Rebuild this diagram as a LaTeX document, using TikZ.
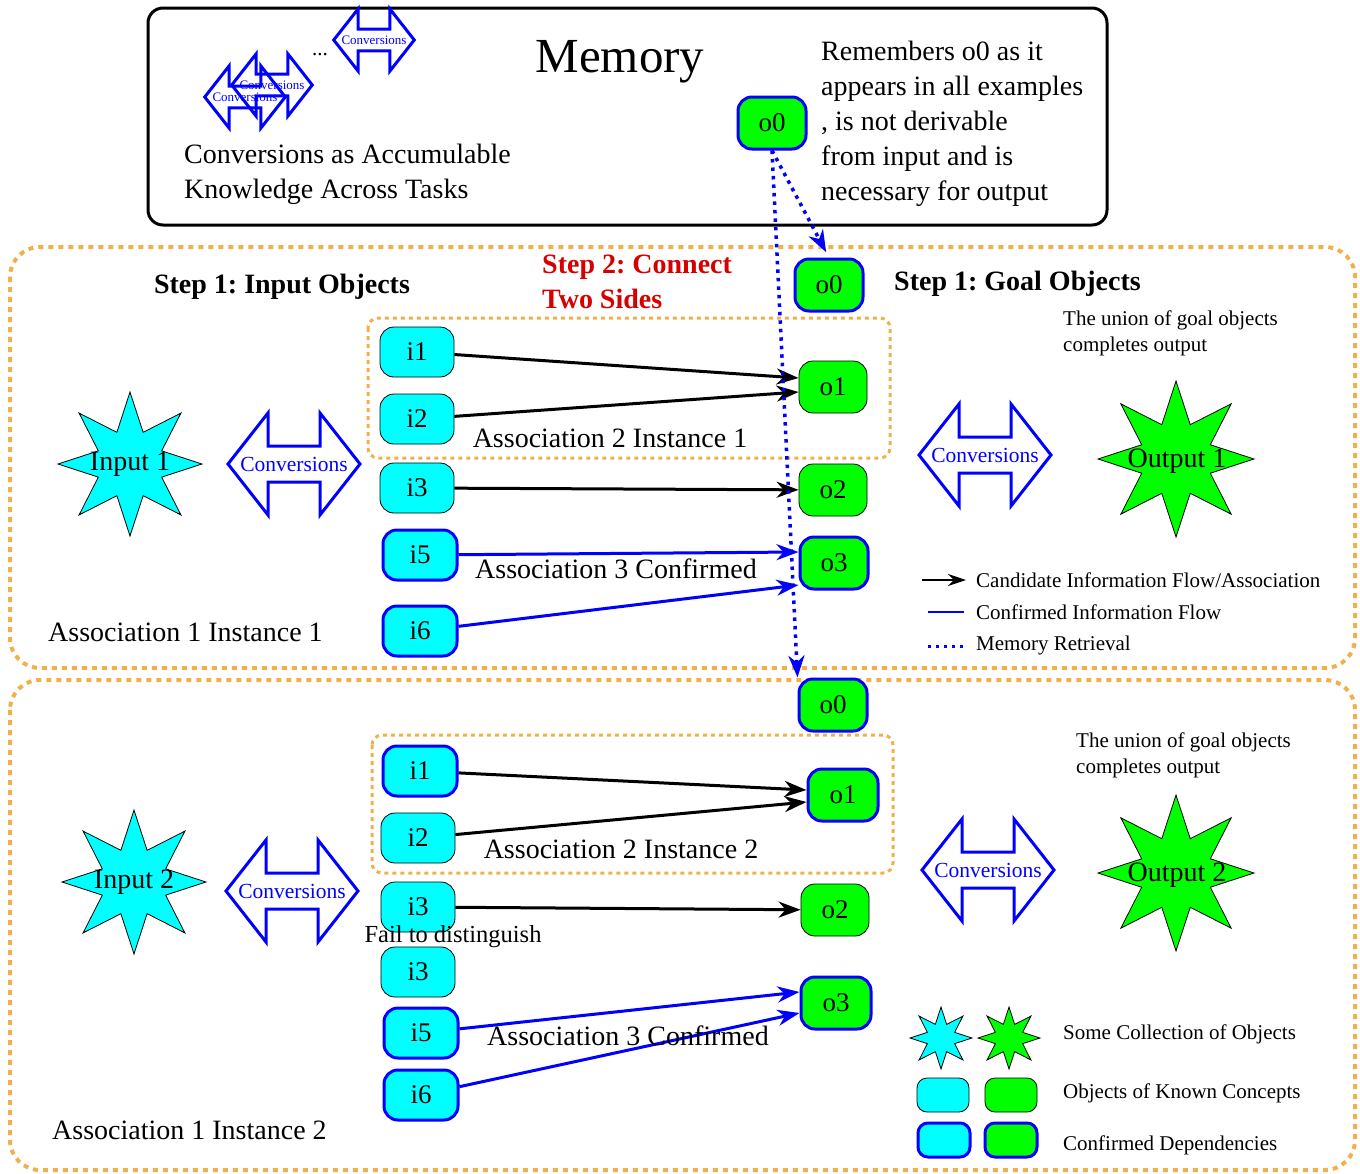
\documentclass[tikz,border=0pt]{standalone}
\usepackage{fontspec}
\setmainfont{Liberation Serif}
\usetikzlibrary{arrows.meta, shapes.geometric}

\definecolor{dotorange}{RGB}{242,176,76}
\definecolor{stepred}{RGB}{215,0,0}
\definecolor{incyan}{RGB}{0,255,255}
\definecolor{outgreen}{RGB}{0,255,0}
\definecolor{flowblue}{RGB}{0,0,255}
\frenchspacing

\begin{document}
\begin{tikzpicture}[
    x=1pt, y=-1pt,
    txt/.style={font=\fontsize{28}{35}\selectfont, inner sep=0pt},
    smalltxt/.style={font=\fontsize{21}{26}\selectfont, inner sep=0pt},
    headtxt/.style={font=\fontsize{28}{35}\selectfont\bfseries, inner sep=0pt},
    obj/.style={rectangle, rounded corners=14pt, draw=black, line width=0.8pt, minimum width=74pt, minimum height=50pt, font=\fontsize{27}{33}\selectfont, inner sep=0pt},
    inobj/.style={obj, fill=incyan},
    outobj/.style={obj, fill=outgreen, minimum width=68pt, minimum height=52pt},
    confirmed/.style={draw=flowblue, line width=3pt},
    keybox/.style={rectangle, rounded corners=10pt, draw=black, line width=0.8pt, minimum width=52pt, minimum height=34pt, inner sep=0pt},
    collection/.style={star, star points=8, star point ratio=2.1, draw=black, line width=0.8pt, inner sep=0pt},
    panel/.style={draw=dotorange, line width=4pt, dash pattern=on 5pt off 5pt, rounded corners=30pt},
    group/.style={draw=dotorange, line width=3pt, dash pattern=on 4pt off 4pt, rounded corners=10pt},
    cand/.style={-{Stealth[length=22pt,width=16pt,inset=7pt]}, line width=3pt},
    conf/.style={cand, flowblue},
    mem/.style={-{Stealth[length=22pt,width=16pt,inset=7pt]}, flowblue, line width=3.5pt, dash pattern=on 3.5pt off 5pt},
    convtxt/.style={text=flowblue, font=\fontsize{21.5}{26}\selectfont, inner sep=0pt},
    conv/.pic={
        \draw[flowblue, line width=3pt, line join=miter] (-66,0) -- (-26,-51) -- (-26,-18) -- (26,-18) -- (26,-51)
            -- (66,0) -- (26,51) -- (26,18) -- (-26,18) -- (-26,51) -- cycle;
    }
]
\useasboundingbox (0,0) rectangle (1360,1173);

% memory
\draw[line width=3pt, rounded corners=15pt] (148,8) rectangle (1107,225);
\pic[scale=0.61] at (374,40) {conv};
\pic[scale=0.61] at (272,85) {conv};
\pic[scale=0.61] at (245,97) {conv};
\node[convtxt, font=\fontsize{13}{15}\selectfont] (mcv1) at (374,40) {Conversions};
\node[convtxt, font=\fontsize{13}{15}\selectfont] (mcv2) at (272,85) {Conversions};
\node[convtxt, font=\fontsize{13}{15}\selectfont] (mcv3) at (245,97) {Conversions};
\node[smalltxt] (dots) at (320,55) {...};
\node[font=\fontsize{49}{55}\selectfont, inner sep=0pt] (memtitle) at (620,62) {Memory};
\node[txt, align=left, anchor=west] (memnote) at (184,174) {Conversions as Accumulable\\Knowledge Across Tasks};
\node[outobj, confirmed] (m0) at (772,123) {o0};
\node[txt, align=left, anchor=west] (remember) at (821,124) {Remembers o0 as it\\appears in all examples\\, is not derivable\\from input and is\\necessary for output};

% panels
\draw[panel] (10,247) rectangle (1355,668);
\draw[panel] (10,680) rectangle (1355,1170);

% instance 1
\node[headtxt] (step1in) at (282,287) {Step 1: Input Objects};
\node[headtxt, text=stepred, align=left, anchor=west] (step2) at (542,282) {Step 2: Connect\\Two Sides};
\node[outobj, confirmed] (ao0) at (829,285) {o0};
\node[headtxt, anchor=west] (step1out) at (894,284) {Step 1: Goal Objects};
\node[smalltxt, align=left, anchor=west] (union1) at (1063,333) {The union of goal objects\\completes output};
\draw[group] (368,318) rectangle (890,458);
\node[inobj] (ai1) at (417,352) {i1};
\node[inobj] (ai2) at (417,419) {i2};
\node[outobj] (ao1) at (833,387) {o1};
\node[txt] (assoc21) at (610,438) {Association 2 Instance 1};
\node[inobj] (ai3) at (417,488) {i3};
\node[outobj] (ao2) at (833,490) {o2};
\node[inobj, confirmed] (ai5) at (420,555) {i5};
\node[inobj, confirmed] (ai6) at (420,631) {i6};
\node[outobj, confirmed] (ao3) at (834,563) {o3};
\node[txt] (assoc31) at (616,569) {Association 3 Confirmed};
\node[txt, anchor=west] (assoc11) at (48,632) {Association 1 Instance 1};
\node[collection, fill=incyan, minimum size=144pt] (in1) at (130,464) {};
\node[txt] (in1lbl) at (in1) {Input 1};
\node[collection, fill=outgreen, minimum size=156pt] (out1) at (1176,459) {};
\node[txt] (out1lbl) at (1177,461) {Output 1};
\pic at (294,464) {conv};
\node[convtxt] (cv1) at (294,464) {Conversions};
\pic at (985,455) {conv};
\node[convtxt] (cv2) at (985,455) {Conversions};

\draw[cand] (ai1) -- ([yshift=9pt]ao1.west);
\draw[cand] (ai2) -- ([yshift=-5pt]ao1.west);
\draw[cand] (ai3) -- (ao2);
\draw[conf] (ai5) -- ([yshift=11pt]ao3.west);
\draw[conf] (ai6) -- ([yshift=-22pt]ao3.west);

% legend 1
\coordinate (lc1) at (922,580);
\coordinate (lc2) at (966,580);
\coordinate (lf1) at (928,612);
\coordinate (lf2) at (964,612);
\coordinate (lm1) at (928,646);
\coordinate (lm2) at (964,646);
\draw[-{Stealth[length=18pt,width=12pt,inset=6pt]}, line width=2.5pt] (lc1) -- (lc2);
\draw[flowblue, line width=2.5pt] (lf1) -- (lf2);
\draw[flowblue, line width=3pt, dash pattern=on 3pt off 5pt] (lm1) -- (lm2);
\node[smalltxt, anchor=west] (lgcand) at (976,580) {Candidate Information Flow/Association};
\node[smalltxt, anchor=west] (lgconf) at (976,612) {Confirmed Information Flow};
\node[smalltxt, anchor=west] (lgmem) at (976,645) {Memory Retrieval};

% instance 2
\node[outobj, confirmed] (bo0) at (833,705) {o0};
\node[smalltxt, align=left, anchor=west] (union2) at (1076,755) {The union of goal objects\\completes output};
\draw[group] (372,735) rectangle (893,873);
\node[inobj, confirmed] (bi1) at (420,771) {i1};
\node[inobj] (bi2) at (418,838) {i2};
\node[outobj, confirmed, minimum width=70pt] (bo1) at (843,795) {o1};
\node[txt] (assoc22) at (621,849) {Association 2 Instance 2};
\node[inobj] (bi3) at (418,907) {i3};
\node[inobj] (bi3b) at (418,972) {i3};
\node[outobj] (bo2) at (835,910) {o2};
\node[font=\fontsize{24.5}{29}\selectfont, inner sep=0pt] (fail) at (453,937) {Fail to distinguish};
\node[inobj, confirmed] (bi5) at (421,1033) {i5};
\node[inobj, confirmed] (bi6) at (421,1095) {i6};
\node[outobj, confirmed, minimum width=70pt] (bo3) at (836,1003) {o3};
\node[txt, anchor=west] (assoc12) at (52,1130) {Association 1 Instance 2};
\node[collection, fill=incyan, minimum size=144pt] (in2) at (134,882) {};
\node[txt] (in2lbl) at (in2) {Input 2};
\node[collection, fill=outgreen, minimum size=156pt] (out2) at (1176,873) {};
\node[txt] (out2lbl) at (1177,875) {Output 2};
\pic at (292,891) {conv};
\node[convtxt] (cv3) at (292,891) {Conversions};
\pic at (988,870) {conv};
\node[convtxt] (cv4) at (988,870) {Conversions};

\draw[cand] (bi1) -- ([yshift=5pt]bo1.west);
\draw[cand] (bi2) -- ([yshift=-7pt]bo1.west);
\draw[cand] (bi3) -- (bo2);
\draw[conf] (bi5) -- ([yshift=11pt]bo3.west);
\draw[conf] (bi6) -- ([yshift=-10pt]bo3.west);
\node[txt] (assoc32) at (628,1036) {Association 3 Confirmed};

% memory retrieval
\draw[mem, shorten >=6pt] (m0.south) -- (ao0.north);
\draw[mem] (m0.south) -- (bo0.north west);

% legend 2
\node[collection, fill=incyan, minimum size=62pt] (lgstar1) at (941,1038) {};
\node[collection, fill=outgreen, minimum size=62pt] (lgstar2) at (1009,1038) {};
\node[keybox, fill=incyan] (lgin) at (943,1095) {};
\node[keybox, fill=outgreen] (lgout) at (1011,1095) {};
\node[keybox, fill=incyan, confirmed] (lgcin) at (944,1140) {};
\node[keybox, fill=outgreen, confirmed] (lgcout) at (1011,1140) {};
\node[smalltxt, anchor=west] (lgcoll) at (1063,1034) {Some Collection of Objects};
\node[smalltxt, anchor=west] (lgknown) at (1063,1093) {Objects of Known Concepts};
\node[smalltxt, anchor=west] (lgdep) at (1063,1145) {Confirmed Dependencies};
\end{tikzpicture}
\end{document}
